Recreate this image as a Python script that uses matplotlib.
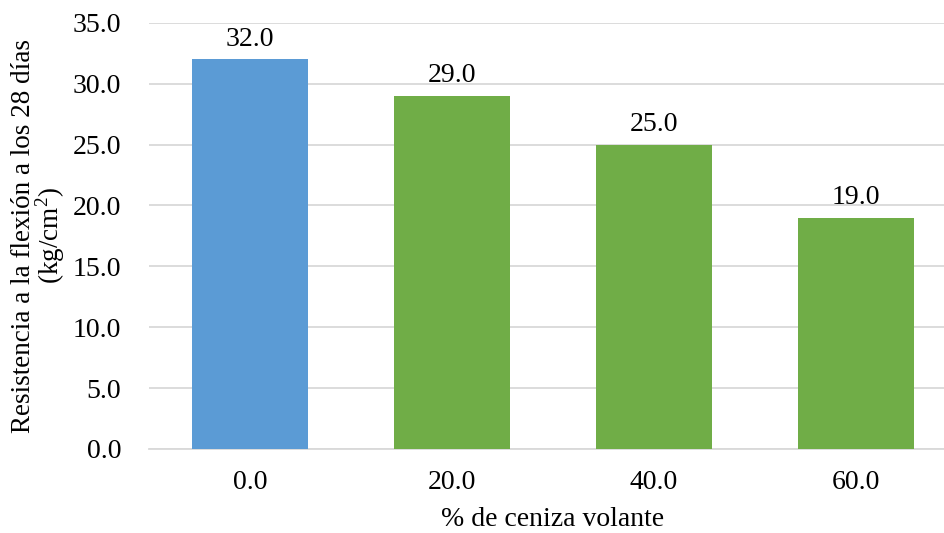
import numpy as np
import matplotlib.pyplot as plt

plt.rcParams['font.family'] = ['Liberation Serif', 'DejaVu Serif']
plt.rcParams['mathtext.fontset'] = 'custom'
plt.rcParams['mathtext.rm'] = 'Liberation Serif'

# flexural strength at 28 days vs fly ash content
categories = ['0.0', '20.0', '40.0', '60.0']
resistencia = [32.0, 29.0, 25.0, 19.0]
colores = ['#5B9BD5', '#70AD47', '#70AD47', '#70AD47']

fs = 20

fig = plt.figure(figsize=(9.44, 5.33), dpi=100)
ax = fig.add_axes([149 / 944, 84 / 533, 808 / 944, 426.3 / 533])

x = np.arange(len(categories))
bars = ax.bar(x, resistencia, width=0.575, color=colores, zorder=3)

for b, v in zip(bars, resistencia):
    ax.text(b.get_x() + b.get_width() / 2, v + 0.6, f'{v:.1f}',
            ha='center', va='bottom', fontsize=fs)

ax.set_xlim(-0.5, 3.5)
ax.set_ylim(0, 35)
ax.set_yticks(np.arange(0, 35.1, 5))
ax.set_yticklabels([f'{t:.1f}' for t in np.arange(0, 35.1, 5)])
ax.set_xticks(x)
ax.set_xticklabels(categories)
ax.tick_params(axis='both', length=0, labelsize=fs)
ax.tick_params(axis='x', pad=15)
ax.tick_params(axis='y', pad=20)

ax.yaxis.grid(True, color='#D9D9D9', linewidth=1.3, zorder=0)
for s in ['top', 'right', 'left']:
    ax.spines[s].set_visible(False)
ax.spines['bottom'].set_color('#D9D9D9')
ax.spines['bottom'].set_linewidth(1.3)

ax.set_xlabel('% de ceniza volante', fontsize=fs, labelpad=9)
ax.set_ylabel('Resistencia a la flexión a los 28 días\n(kg/cm$^2$)',
              fontsize=19.5, labelpad=4, linespacing=0.88)

fig.savefig('out.png', dpi=100)
